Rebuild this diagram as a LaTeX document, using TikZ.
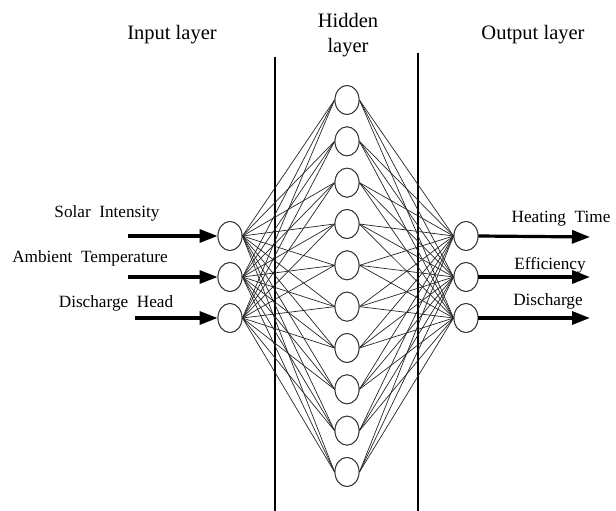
\documentclass[tikz,border=0pt]{standalone}
\usepackage{fontspec}
\setmainfont{Liberation Serif}
\usetikzlibrary{arrows.meta,shapes.geometric}
\begin{document}
\begin{tikzpicture}[x=1pt,y=-1pt,
  neuron/.style={draw=black!80,line width=0.9pt,ellipse,minimum width=24pt,minimum height=29pt,inner sep=0pt,fill=white},
  conn/.style={draw=black!85,line width=0.7pt},
  ioarrow/.style={line width=3.2pt,-{Triangle[length=18pt,width=13pt]}},
  divider/.style={line width=1.6pt},
  title/.style={font=\fontsize{20.5}{22}\selectfont,align=center},
  lab/.style={font=\fontsize{17.2}{19}\selectfont}]
\useasboundingbox (0,0) rectangle (616,511);
% dividers
\coordinate (d1t) at (275,57); \coordinate (d1b) at (275,511);
\coordinate (d2t) at (418,53); \coordinate (d2b) at (418,511);
\draw[divider] (d1t) -- (d1b);
\draw[divider] (d2t) -- (d2b);
% titles
\node[title] (tin) at (172,35) {Input layer};
\node[title,font=\fontsize{20.5}{25}\selectfont] (thid) at (348,35) {Hidden\\layer};
\node[title] (tout) at (533,35) {Output layer};
% neurons
\foreach \i/\y in {1/236,2/277,3/318} {
  \node[neuron] (i\i) at (230,\y) {};
  \node[neuron] (o\i) at (466,\y) {};
}
\foreach \j in {1,...,10} {
  \node[neuron] (h\j) at (347,{100+41.33*(\j-1)}) {};
}
% connections
\foreach \i in {1,2,3} {
  \foreach \j in {1,...,10} {
    \draw[conn] (i\i.east) -- (h\j.west);
    \draw[conn] (h\j.east) -- (o\i.west);
  }
}
% redraw neurons on top
\foreach \i/\y in {1/236,2/277,3/318} {
  \node[neuron] at (230,\y) {};
  \node[neuron] at (466,\y) {};
}
\foreach \j in {1,...,10} {
  \node[neuron] at (347,{100+41.33*(\j-1)}) {};
}
% input arrows
\coordinate (a1) at (128,236);
\coordinate (a2) at (128,277);
\coordinate (a3) at (135,318);
\draw[ioarrow] (a1) -- (i1.west);
\draw[ioarrow] (a2) -- (i2.west);
\draw[ioarrow] (a3) -- (i3.west);
\node[lab] (l1) at (107,213) {Solar\ \ Intensity};
\node[lab] (l2) at (90,258) {Ambient\ \ Temperature};
\node[lab] (l3) at (116,303) {Discharge\ \ Head};
% output arrows
\coordinate (b1) at (590,237);
\coordinate (b2) at (590,277);
\coordinate (b3) at (590,318);
\draw[ioarrow] (o1.east) -- (b1);
\draw[ioarrow] (o2.east) -- (b2);
\draw[ioarrow] (o3.east) -- (b3);
\node[lab] (m1) at (561,219) {Heating\ \ Time};
\node[lab] (m2) at (550,265) {Efficiency};
\node[lab] (m3) at (548,301) {Discharge};
\end{tikzpicture}
\end{document}
